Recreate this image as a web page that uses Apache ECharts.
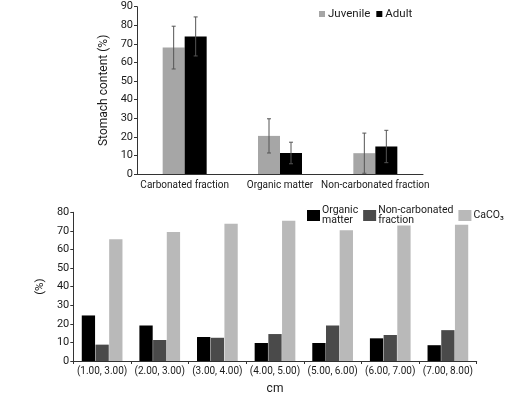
<!DOCTYPE html>
<html><head><meta charset="utf-8">
<script src="https://cdn.jsdelivr.net/npm/echarts@6/dist/echarts.min.js"></script>
<style>html,body{margin:0;padding:0;background:#fff}#c{width:528px;height:396px}</style>
</head><body><div id="c"></div>
<script>
// Top chart data
const topCategories = ['Carbonated fraction', 'Organic matter', 'Non-carbonated fraction'];
const juvenile = [68, 20.5, 11.2];
const juvenileErr = [11.5, 9.2, 10.8];
const adult = [74, 11.3, 14.8];
const adultErr = [10.5, 5.8, 8.7];
const topTicks = [0, 10, 20, 30, 40, 50, 60, 70, 80, 90];

// Bottom chart data
const bottomCategories = ['(1.00, 3.00)', '(2.00, 3.00)', '(3.00, 4.00)', '(4.00, 5.00)', '(5.00, 6.00)', '(6.00, 7.00)', '(7.00, 8.00)'];
const organicMatter = [24.5, 19.1, 12.9, 9.7, 9.7, 12.2, 8.5];
const nonCarbonated = [8.8, 11.3, 12.5, 14.5, 19.1, 14.0, 16.6];
const caco3 = [65.5, 69.4, 73.8, 75.4, 70.3, 72.9, 73.3];
const bottomTicks = [0, 10, 20, 30, 40, 50, 60, 70, 80];

const FONT = 'Roboto, "Liberation Sans", sans-serif';
const AX = '#333';
const TXT = '#1a1a1a';
const chart = echarts.init(document.getElementById('c'), null, {renderer: 'canvas'});

function errSeries(name, vals, errs, side, barW) {
  return {
    type: 'custom', name: name + 'err', xAxisIndex: 0, yAxisIndex: 0, z: 10,
    data: vals.map((v, i) => [i, v - errs[i], v + errs[i]]),
    renderItem: function (params, api) {
      const lo = api.coord([api.value(0), api.value(1)]);
      const hi = api.coord([api.value(0), api.value(2)]);
      const x = lo[0] + side * barW / 2;
      const c = 2;
      const st = {stroke: '#555', lineWidth: 1};
      return {type: 'group', children: [
        {type: 'line', shape: {x1: x, y1: lo[1], x2: x, y2: hi[1]}, style: st},
        {type: 'line', shape: {x1: x - c, y1: lo[1], x2: x + c, y2: lo[1]}, style: st},
        {type: 'line', shape: {x1: x - c, y1: hi[1], x2: x + c, y2: hi[1]}, style: st}
      ]};
    },
    silent: true
  };
}

const option = {
  animation: false,
  textStyle: {fontFamily: FONT},
  grid: [
    {left: 137, right: 105, top: 6.7, bottom: 222, containLabel: false},
    {left: 73.3, right: 51.3, top: 212.3, bottom: 32.7, containLabel: false}
  ],
  legend: [
    {data: ['Juvenile', 'Adult'], left: 314, top: 3, width: 200, itemWidth: 6, itemHeight: 6, itemGap: 6,
     icon: 'rect', textStyle: {fontSize: 11.5, color: TXT, fontFamily: FONT, padding: [0, 0, 0, -2]}},
    {data: ['Organic\nmatter', 'Non-carbonated\nfraction', 'CaCO₃'], left: 302, top: 200, width: 226, itemWidth: 13, itemHeight: 11, itemGap: 5,
     icon: 'rect', textStyle: {fontSize: 10.5, color: TXT, fontFamily: FONT, lineHeight: 10, padding: [0, 0, 0, -3]}}
  ],
  xAxis: [
    {type: 'category', gridIndex: 0, data: topCategories,
     axisLine: {lineStyle: {color: AX, width: 1}}, axisTick: {show: false},
     axisLabel: {color: TXT, fontSize: 10, margin: 6, fontFamily: FONT, interval: 0}},
    {type: 'category', gridIndex: 1, data: bottomCategories, name: 'cm', nameLocation: 'middle', nameGap: 22,
     nameTextStyle: {fontSize: 12, color: TXT, fontFamily: FONT},
     axisLine: {lineStyle: {color: AX, width: 1}}, axisTick: {show: true, length: 3, inside: false, lineStyle: {color: AX}},
     axisLabel: {color: TXT, fontSize: 10, margin: 5, fontFamily: FONT, interval: 0}}
  ],
  yAxis: [
    {type: 'value', gridIndex: 0, min: 0, max: 90, interval: 10, name: 'Stomach content (%)', nameLocation: 'middle', nameGap: 23,
     nameTextStyle: {fontSize: 12, color: TXT, fontFamily: FONT},
     axisLine: {show: true, lineStyle: {color: AX}}, axisTick: {show: true, length: 3, lineStyle: {color: AX}},
     splitLine: {show: false},
     axisLabel: {color: TXT, fontSize: 11, margin: 4, fontFamily: FONT,
       formatter: v => topTicks.includes(v) ? String(v) : ''}},
    {type: 'value', gridIndex: 1, min: 0, max: 80, interval: 10, name: '(%)', nameLocation: 'middle', nameGap: 23,
     nameTextStyle: {fontSize: 11.5, color: TXT, fontFamily: FONT},
     axisLine: {show: true, lineStyle: {color: AX}}, axisTick: {show: true, length: 3, lineStyle: {color: AX}},
     splitLine: {show: false},
     axisLabel: {color: TXT, fontSize: 11, margin: 4, fontFamily: FONT,
       formatter: v => bottomTicks.includes(v) ? String(v) : ''}}
  ],
  series: [
    {type: 'bar', name: 'Juvenile', xAxisIndex: 0, yAxisIndex: 0, data: juvenile, barWidth: 22, barGap: '0%',
     itemStyle: {color: '#a6a6a6'}},
    {type: 'bar', name: 'Adult', xAxisIndex: 0, yAxisIndex: 0, data: adult, barWidth: 22, barGap: '0%',
     itemStyle: {color: '#000'}},
    errSeries('Juvenile', juvenile, juvenileErr, -1, 22),
    errSeries('Adult', adult, adultErr, 1, 22),
    {type: 'bar', name: 'Organic\nmatter', xAxisIndex: 1, yAxisIndex: 1, data: organicMatter, barWidth: 13.3, barGap: '3%',
     itemStyle: {color: '#000'}},
    {type: 'bar', name: 'Non-carbonated\nfraction', xAxisIndex: 1, yAxisIndex: 1, data: nonCarbonated, barWidth: 13.3, barGap: '3%',
     itemStyle: {color: '#4a4a4a'}},
    {type: 'bar', name: 'CaCO₃', xAxisIndex: 1, yAxisIndex: 1, data: caco3, barWidth: 13.3, barGap: '3%',
     itemStyle: {color: '#b9b9b9'}}
  ]
};
chart.setOption(option);
</script>
</body></html>
